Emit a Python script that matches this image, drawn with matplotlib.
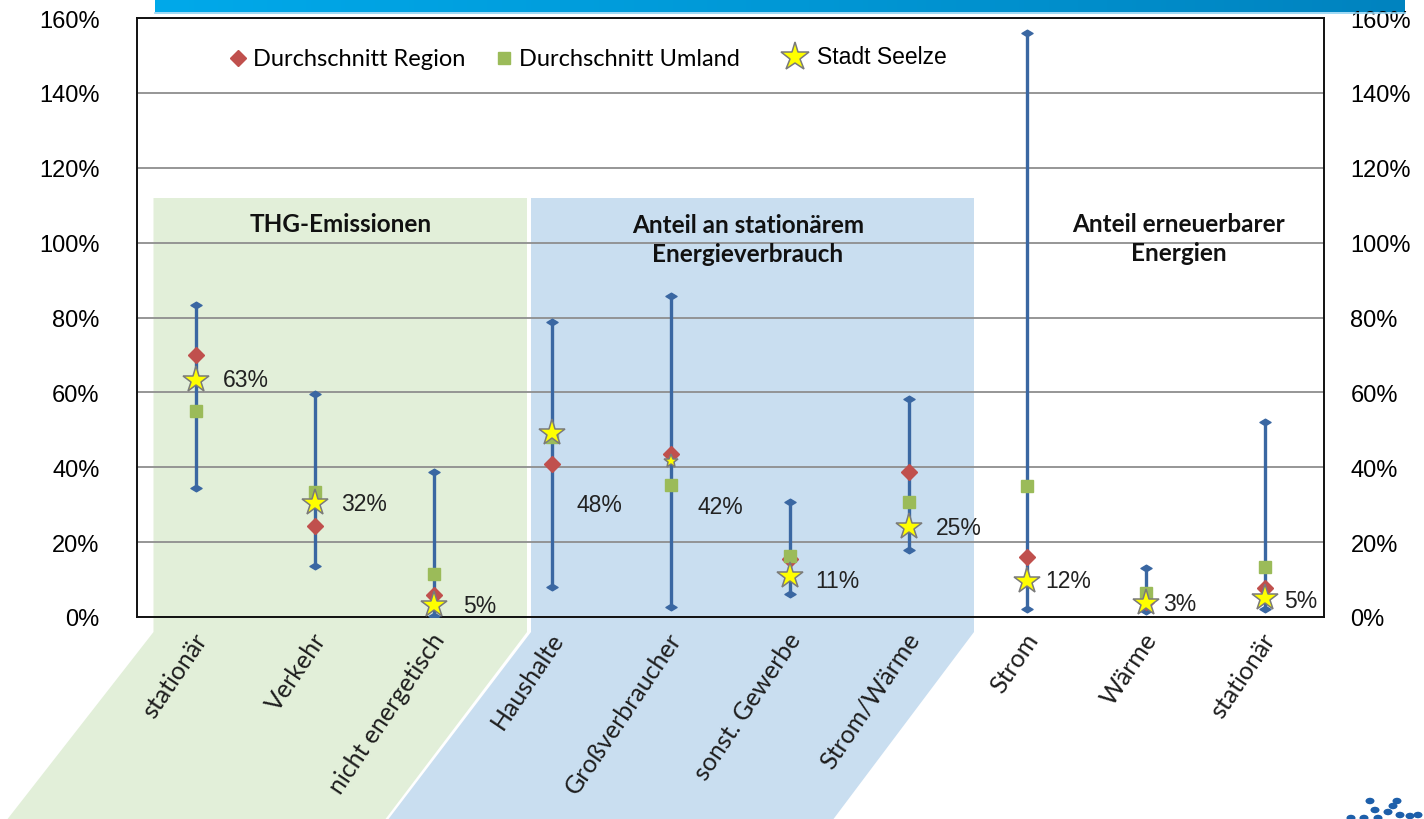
import matplotlib
matplotlib.use("Agg")
import matplotlib.pyplot as plt
import numpy as np
from matplotlib.path import Path
from matplotlib.patches import Polygon, Ellipse
from matplotlib.lines import Line2D
from matplotlib.ticker import FuncFormatter
from matplotlib.colors import LinearSegmentedColormap

# ---------------- data ----------------
categories = ["stationär", "Verkehr", "nicht energetisch",
              "Haushalte", "Großverbraucher", "sonst. Gewerbe", "Strom/Wärme",
              "Strom", "Wärme", "stationär"]
range_min = [0.345, 0.137, 0.003, 0.079, 0.026, 0.061, 0.180, 0.021, 0.017, 0.021]
range_max = [0.833, 0.596, 0.386, 0.789, 0.857, 0.306, 0.582, 1.560, 0.130, 0.522]
region_avg = [0.699, 0.242, 0.059, 0.409, 0.435, 0.155, 0.388, 0.161, 0.040, 0.077]
umland_avg = [0.550, 0.335, 0.115, 0.480, 0.353, 0.164, 0.306, 0.351, 0.063, 0.133]
seelze = [0.634, 0.304, 0.032, 0.491, 0.418, 0.110, 0.240, 0.097, 0.037, 0.050]
seelze_labels = ["63%", "32%", "5%", "48%", "42%", "11%", "25%", "12%", "3%", "5%"]
group_titles = ["THG-Emissionen", "Anteil an stationärem\nEnergieverbrauch",
                "Anteil erneuerbarer\nEnergien"]
legend_labels = ["Durchschnitt Region", "Durchschnitt Umland", "Stadt Seelze"]
y_ticks = [0.0, 0.2, 0.4, 0.6, 0.8, 1.0, 1.2, 1.4, 1.6]

# ---------------- style ----------------
W, H = 1424, 820
CALIBRI = ["Lato", "DejaVu Sans"]
ARIAL = ["Liberation Sans", "DejaVu Sans"]
C_WHISK = "#3A67A2"
C_RED = "#C0504D"
C_GREEN = "#9BBB59"
C_STAR = "#FFFF00"
C_STAR_EDGE = "#7A7A7A"
C_GREEN_BG = "#E2EFD9"
C_BLUE_BG = "#C9DEF0"
TXT = "#111111"


def fx(px):
    return px / W


def fy(py):
    return 1 - py / H


fig = plt.figure(figsize=(W / 100, H / 100), dpi=100)
fig.patch.set_facecolor("white")

# header bar with gradient
hax = fig.add_axes([fx(155), fy(13), fx(1405) - fx(155), fy(0) - fy(13)])
grad = np.linspace(0, 1, 256).reshape(1, -1)
cmap = LinearSegmentedColormap.from_list("hb", ["#00A9EA", "#0098D6", "#0083BF"])
hax.imshow(grad, aspect="auto", cmap=cmap, extent=[0, 1, 0, 1])
hax.set_axis_off()
fig.add_artist(Line2D([fx(155), fx(1405)], [fy(13.5), fy(13.5)], transform=fig.transFigure,
                      color="#8ED3F3", lw=1.2))


# shaded group backgrounds (figure pixel coordinates)
def poly(pts, color):
    p = Polygon([(fx(px), fy(py)) for px, py in pts], closed=True, transform=fig.transFigure,
                facecolor=color, edgecolor="none", zorder=-5)
    fig.patches.append(p)


poly([(153.5, 199), (527, 199), (527, 633), (384, 822), (6, 822), (153.5, 633)], C_GREEN_BG)
poly([(531, 199), (974, 199), (974, 633), (832, 822), (387, 822), (531, 633)], C_BLUE_BG)

# main axes
ax = fig.add_axes([fx(137), fy(618), fx(1324) - fx(137), fy(19) - fy(618)])
ax.patch.set_visible(False)
ax.set_xlim(-0.5, len(categories) - 0.5)
ax.set_ylim(0, 1.6)
ax.set_yticks(y_ticks)
pct = FuncFormatter(lambda v, p: f"{v * 100:.0f}%")
ax.yaxis.set_major_formatter(pct)
ax.tick_params(axis="y", length=0, pad=27, labelsize=17, labelcolor="black")
for lab in ax.get_yticklabels():
    lab.set_family(ARIAL)
ax.set_xticks([])
ax.yaxis.grid(True, color="#8E8E8E", lw=1.3)
ax.set_axisbelow(True)
for s in ax.spines.values():
    s.set_color("#111111")
    s.set_linewidth(1.4)

ax2 = ax.twinx()
ax2.set_ylim(0, 1.6)
ax2.set_yticks(y_ticks)
ax2.yaxis.set_major_formatter(pct)
ax2.tick_params(axis="y", length=0, pad=19, labelsize=17, labelcolor="black")
for lab in ax2.get_yticklabels():
    lab.set_family(ARIAL)
for s in ax2.spines.values():
    s.set_visible(False)

x = np.arange(len(categories))

# whiskers
ax.vlines(x, range_min, range_max, color=C_WHISK, lw=2.4, zorder=3)
cap = Path([(-1, 0), (0, 0.6), (1, 0), (0, -0.6), (-1, 0)],
           [Path.MOVETO, Path.LINETO, Path.LINETO, Path.LINETO, Path.CLOSEPOLY])
ax.plot(x, range_min, ls="none", marker=cap, ms=8, color=C_WHISK, zorder=4)
ax.plot(x, range_max, ls="none", marker=cap, ms=8, color=C_WHISK, zorder=4)

# averages
ax.plot(x, region_avg, ls="none", marker="D", ms=8.5, color=C_RED, mec=C_RED, zorder=5)
ax.plot(x, umland_avg, ls="none", marker="s", ms=9, color=C_GREEN, mec=C_GREEN, zorder=6)

# Seelze stars (one drawn smaller as in the original)
star_ms = [20, 20, 20, 20, 10, 20, 20, 20, 20, 20]
for xi, yi, ms in zip(x, seelze, star_ms):
    ax.plot(xi, yi, ls="none", marker="*", ms=ms, color=C_STAR, mec=C_STAR_EDGE,
            mew=1.1, zorder=7)

# data labels
lab_dx = [27, 26, 29, 24, 26, 25, 27, 18, 17, 19]
lab_dy = [0, 0, 0, -71, -46, -5, 0, 0, 0, -2]
for xi, yi, t, dx, dy in zip(x, seelze, seelze_labels, lab_dx, lab_dy):
    ax.annotate(t, (xi, yi), xytext=(dx, dy), textcoords="offset pixels",
                ha="left", va="center", fontsize=16.5, family=ARIAL, color="#222222",
                zorder=8)

# category labels (rotated)
for xi, t in zip(x, categories):
    ax.annotate(t, (xi, 0), xytext=(-4, -11), textcoords="offset pixels",
                ha="right", va="top", rotation=56, rotation_mode="anchor",
                fontsize=18, family=CALIBRI, color="#1E1E1E", annotation_clip=False)

# group titles
fig.text(fx(341), fy(225), group_titles[0], ha="center", va="center", fontsize=17.5,
         fontweight="bold", family=CALIBRI, color=TXT)
fig.text(fx(748), fy(240), group_titles[1], ha="center", va="center", fontsize=17.5,
         fontweight="bold", family=CALIBRI, color=TXT, linespacing=1.35)
fig.text(fx(1179), fy(239), group_titles[2], ha="center", va="center", fontsize=17.5,
         fontweight="bold", family=CALIBRI, color=TXT, linespacing=1.35)

# legend (manual)
fig.add_artist(Line2D([fx(238)], [fy(59)], transform=fig.transFigure, ls="none",
                      marker="D", ms=8.5, color=C_RED))
fig.text(fx(253), fy(59), legend_labels[0], ha="left", va="center", fontsize=17,
         family=CALIBRI, color="black")
fig.add_artist(Line2D([fx(504)], [fy(59)], transform=fig.transFigure, ls="none",
                      marker="s", ms=8.5, color=C_GREEN))
fig.text(fx(519), fy(59), legend_labels[1], ha="left", va="center", fontsize=17,
         family=CALIBRI, color="black")
fig.add_artist(Line2D([fx(795)], [fy(58)], transform=fig.transFigure, ls="none",
                      marker="*", ms=21, color=C_STAR, mec=C_STAR_EDGE, mew=1.1))
fig.text(fx(817), fy(58), legend_labels[2], ha="left", va="center", fontsize=16.5,
         family=ARIAL, color="black")

# small logo dots (bottom right decoration)
for (px, py) in [(1370, 802), (1375, 811), (1388, 813), (1393, 807), (1397, 802),
                 (1400, 816), (1410, 817), (1418, 816), (1378, 819), (1351, 819),
                 (1364, 819)]:
    fig.patches.append(Ellipse((fx(px), fy(py)), fx(9), 6.5 / H, transform=fig.transFigure,
                               facecolor="#1D5FAA", edgecolor="none"))

fig.savefig("out.png", dpi=100)
